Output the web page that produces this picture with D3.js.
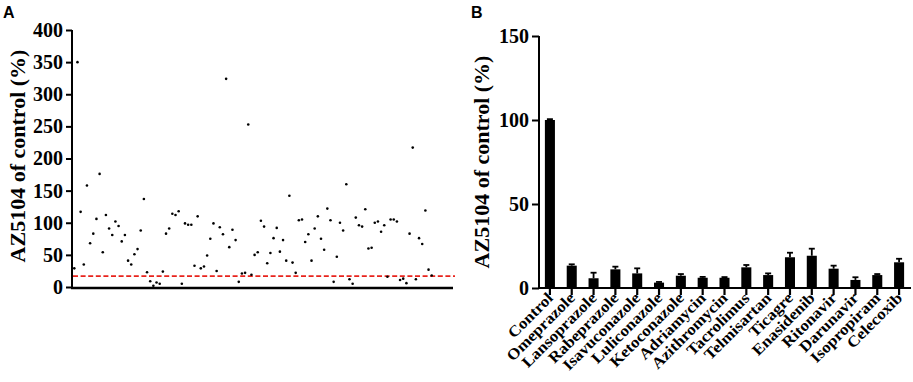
<!DOCTYPE html>
<html>
<head>
<meta charset="utf-8">
<script src="https://cdn.jsdelivr.net/npm/d3@7"></script>
<style>
  body { margin: 0; background: #fff; }
  text { font-family: "Liberation Serif", "Times New Roman", serif; font-weight: bold; }
  text.panel { font-family: "Liberation Sans", Arial, sans-serif; }
</style>
</head>
<body>
<svg width="913" height="382"></svg>
<script>
// panel A: AZ5104 % of control, one dot per compound screened
const screenValues = [
  29, 350, 117, 35, 158, 68, 83, 106, 176, 54, 112, 91, 81, 102, 95, 71, 81, 41, 35, 51,
  59, 88, 137, 23, 9, 2, 7, 5, 24, 83, 91, 114, 112, 118, 5, 99, 97, 97, 33, 110,
  29, 32, 49, 75, 99, 25, 93, 82, 324, 62, 89, 73, 8, 21, 22, 253, 19, 50, 54, 103,
  94, 37, 53, 76, 92, 55, 73, 41, 142, 38, 22, 104, 105, 70, 82, 41, 91, 110, 75, 58,
  122, 104, 8, 47, 100, 88, 160, 12, 5, 108, 96, 94, 121, 60, 61, 100, 102, 86, 96, 16,
  105, 105, 102, 11, 13, 6, 83, 217, 12, 76, 67, 119, 27, 18
];
const cutoff = 17;
const yTicksA = [0, 50, 100, 150, 200, 250, 300, 350, 400];

// panel B: selected drugs, mean and upper error
const drugs = ["Control", "Omeprazole", "Lansoprazole", "Rabeprazole", "Isavuconazole",
  "Luliconazole", "Ketoconazole", "Adriamycin", "Azithromycin", "Tacrolimus",
  "Telmisartan", "Ticagre", "Enasidenib", "Ritonavir", "Darunavir", "Isopropiram", "Celecoxib"];
const means = [100, 13.3, 5.8, 11.1, 8.7, 3.2, 7.3, 6.1, 6.1, 12.3, 7.7, 18.3, 19.2, 11.5, 4.8, 7.7, 15.3];
const errs = [0.5, 0.8, 3.3, 1.6, 3.0, 0.4, 1.0, 0.5, 0.4, 1.4, 1.0, 2.7, 4.2, 1.8, 1.6, 0.6, 2.1];
const yTicksB = [0, 50, 100, 150];

const svg = d3.select("svg");

// ---- panel A ----
const yA = d3.scaleLinear().domain([0, 400]).range([287, 30]);
const xA = d3.scaleLinear().domain([0, screenValues.length - 1]).range([74.3, 431.7]);

const gA = svg.append("g");

gA.append("g")
  .attr("transform", "translate(72,0)")
  .call(d3.axisLeft(yA).tickValues(yTicksA).tickSize(6).tickPadding(3))
  .call(g => g.selectAll("path, line").attr("stroke", "#000").attr("stroke-width", 2))
  .call(g => g.select(".domain").attr("d", "M0,30V288"))
  .call(g => g.selectAll("text").attr("font-size", 20).attr("font-family", null).attr("fill", "#000"));

gA.append("line")
  .attr("x1", 71).attr("x2", 453)
  .attr("y1", 288).attr("y2", 288)
  .attr("stroke", "#000").attr("stroke-width", 2.5);

gA.append("line")
  .attr("x1", 73).attr("x2", 455)
  .attr("y1", yA(cutoff)).attr("y2", yA(cutoff))
  .attr("stroke", "#e8231c").attr("stroke-width", 1.6)
  .attr("stroke-dasharray", "5,2.6");

gA.selectAll("circle")
  .data(screenValues)
  .enter().append("circle")
  .attr("cx", (d, i) => xA(i))
  .attr("cy", d => yA(d))
  .attr("r", 1.3)
  .attr("fill", "#000");

gA.append("text")
  .attr("transform", "translate(25,156) rotate(-90)")
  .attr("text-anchor", "middle")
  .attr("font-size", 22)
  .text("AZ5104 of control (%)");

svg.append("text")
  .attr("class", "panel")
  .attr("x", 3).attr("y", 18)
  .attr("font-size", 16)
  .text("A");

// ---- panel B ----
const yB = d3.scaleLinear().domain([0, 150]).range([288, 36]);
const xB = d3.scaleBand().domain(drugs).range([539, 910]).paddingInner(0.54).paddingOuter(0.27);

const gB = svg.append("g");

gB.append("g")
  .attr("transform", "translate(539,0)")
  .call(d3.axisLeft(yB).tickValues(yTicksB).tickSize(7).tickPadding(3))
  .call(g => g.selectAll("path, line").attr("stroke", "#000").attr("stroke-width", 2))
  .call(g => g.select(".domain").attr("d", "M0,36V289"))
  .call(g => g.selectAll("text").attr("font-size", 20).attr("font-family", null).attr("fill", "#000"));

gB.append("g")
  .attr("transform", "translate(0,288)")
  .call(d3.axisBottom(xB).tickSize(7).tickFormat(""))
  .call(g => g.selectAll("path, line").attr("stroke", "#000").attr("stroke-width", 2.2))
  .call(g => g.select(".domain").attr("d", "M538,0H911"));

gB.selectAll(".bar")
  .data(drugs)
  .enter().append("rect")
  .attr("class", "bar")
  .attr("x", d => xB(d))
  .attr("width", xB.bandwidth())
  .attr("y", (d, i) => yB(means[i]))
  .attr("height", (d, i) => yB(0) - yB(means[i]))
  .attr("fill", "#000");

const err = gB.selectAll(".err")
  .data(drugs)
  .enter().append("g")
  .attr("class", "err")
  .attr("stroke", "#000")
  .attr("stroke-width", 1.8);

err.append("line")
  .attr("x1", d => xB(d) + xB.bandwidth() / 2)
  .attr("x2", d => xB(d) + xB.bandwidth() / 2)
  .attr("y1", (d, i) => yB(means[i]))
  .attr("y2", (d, i) => yB(means[i] + errs[i]));

err.append("line")
  .attr("x1", d => xB(d) + xB.bandwidth() / 2 - 3)
  .attr("x2", d => xB(d) + xB.bandwidth() / 2 + 3)
  .attr("y1", (d, i) => yB(means[i] + errs[i]))
  .attr("y2", (d, i) => yB(means[i] + errs[i]));

// labels are a little wider than plain Times in the figure, so stretch them along the baseline
gB.selectAll(".xlab")
  .data(drugs)
  .enter().append("text")
  .attr("class", "xlab")
  .attr("text-anchor", "end")
  .attr("font-size", 15.5)
  .attr("transform", d => "translate(" + (xB(d) + xB.bandwidth() / 2 + 4) + ",299) rotate(-45) scale(1.1,1)")
  .text(d => d);

gB.append("text")
  .attr("transform", "translate(489,162) rotate(-90)")
  .attr("text-anchor", "middle")
  .attr("font-size", 22)
  .text("AZ5104 of control (%)");

svg.append("text")
  .attr("class", "panel")
  .attr("x", 471).attr("y", 18)
  .attr("font-size", 16)
  .text("B");
</script>
</body>
</html>
